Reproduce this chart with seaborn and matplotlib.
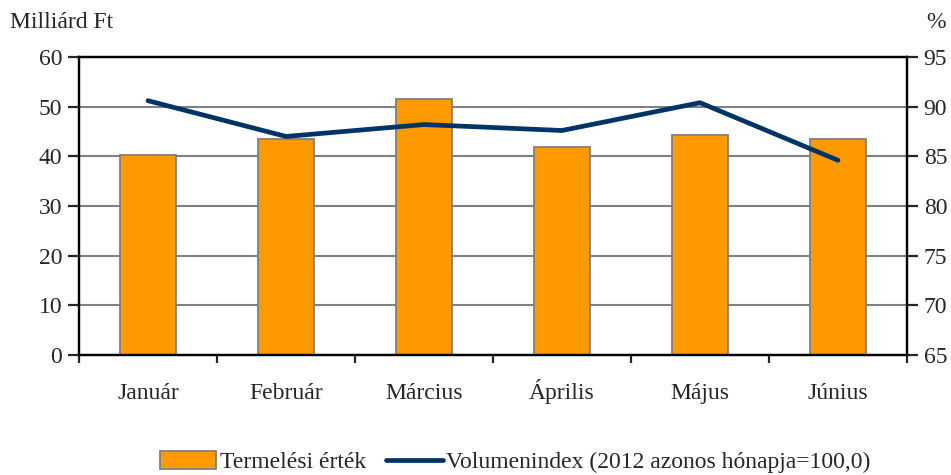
import numpy as np
import pandas as pd
import matplotlib.pyplot as plt
import seaborn as sns
from matplotlib.patches import Patch
from matplotlib.lines import Line2D

# adatok
honapok = ['Január', 'Február', 'Március', 'Április', 'Május', 'Június']
termeles = [40.2, 43.5, 51.5, 41.9, 44.3, 43.5]        # Milliárd Ft
volumenindex = [90.6, 87.0, 88.2, 87.6, 90.4, 84.6]    # %

df = pd.DataFrame({'honap': honapok, 'termeles': termeles, 'index': volumenindex})

sns.set_style("white")
plt.rcParams['font.family'] = ['Liberation Serif', 'DejaVu Serif']
fs = 17

fig = plt.figure(figsize=(9.51, 4.75), dpi=100)
ax = fig.add_axes([79/951, 1-355/475, (907-79)/951, (355-57)/475])

sns.barplot(data=df, x='honap', y='termeles', ax=ax, color='#FF9900',
            width=0.41, edgecolor='#808080', linewidth=1.3, saturation=1)
ax.set_ylim(0, 60)
ax.set_xlim(-0.5, 5.5)
ax.set_yticks(np.arange(0, 61, 10))
ax.yaxis.grid(True, color='#808080', lw=1.5)
ax.set_axisbelow(True)
ax.set_xlabel('')
ax.set_ylabel('')

ax2 = ax.twinx()
sns.lineplot(data=df, x='honap', y='index', ax=ax2, color='#003366', lw=3.4,
             sort=False, solid_capstyle='round')
ax2.set_ylim(65, 95)
ax2.set_yticks(np.arange(65, 96, 5))
ax2.set_ylabel('')
ax2.set_xlim(-0.5, 5.5)

# tengelyek
for a in (ax, ax2):
    for s in a.spines.values():
        s.set_color('black')
        s.set_linewidth(1.6)
ax.tick_params(axis='y', direction='out', length=8, width=1.6, labelsize=fs, pad=4, left=True)
ax2.tick_params(axis='y', direction='out', length=8, width=1.6, labelsize=fs, pad=4, right=True)
ax.set_xticks(np.arange(6))
ax.set_xticklabels(honapok, fontsize=fs, va='baseline')
ax.set_xticks(np.arange(-0.5, 6, 1), minor=True)
ax.tick_params(axis='x', which='major', length=0, pad=32)
ax.tick_params(axis='x', which='minor', direction='out', length=6, width=1.6, bottom=True)

fig.text(10/951, 1-22/475, 'Milliárd Ft', fontsize=fs, va='center', ha='left')
fig.text(946/951, 1-22/475, '%', fontsize=fs, va='center', ha='right')

handles = [Patch(facecolor='#FF9900', edgecolor='#808080', lw=1.3),
           Line2D([0], [0], color='#003366', lw=3.4, solid_capstyle='round')]
fig.legend(handles, ['Termelési érték', 'Volumenindex (2012 azonos hónapja=100,0)'],
           loc='center', bbox_to_anchor=(515/951, 1-462/475), ncol=2, frameon=False,
           fontsize=fs, handlelength=2.4, handleheight=0.8, handletextpad=0.15,
           columnspacing=0.85)

plt.savefig('out.png', dpi=100)
